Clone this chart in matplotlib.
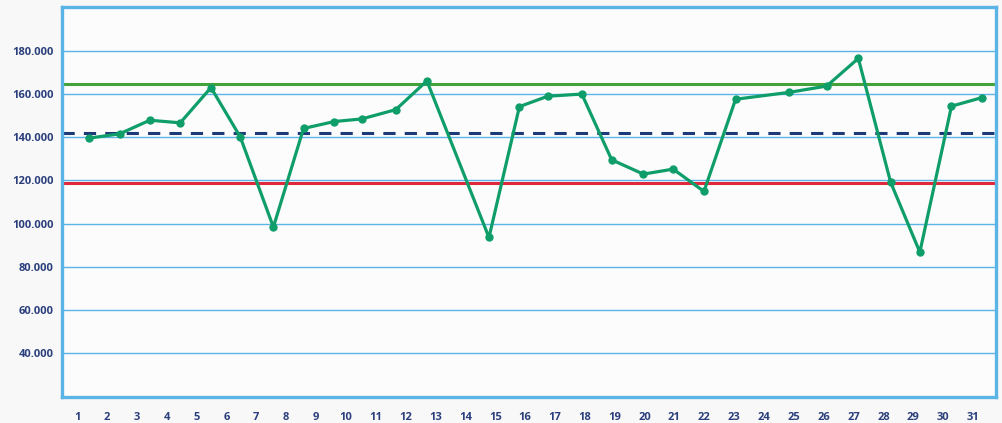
import matplotlib
matplotlib.use('Agg')
import matplotlib.pyplot as plt
from matplotlib.ticker import FuncFormatter

# Dados
dias = list(range(1, 32))
x_pontos = [1.38, 2.42, 3.43, 4.45, 5.48, 6.46, 7.57, 8.58, 9.61, 10.53,
            11.67, 12.71, 14.79, 15.81, 16.76, 17.90, 18.90, 19.96, 20.96, 21.99,
            23.05, 24.85, 26.10, 27.16, 28.24, 29.22, 30.28, 31.31]
valores = [139500, 141500, 147800, 146600, 162900, 140100, 98400, 144000, 147200, 148400,
           152700, 166000, 93600, 154100, 158900, 159900, 129500, 122900, 125200, 114900,
           157500, 160700, 163600, 176400, 119200, 86800, 154300, 158300]
limite_superior = 164400
media = 141700
limite_inferior = 118700
y_ticks = [40000, 60000, 80000, 100000, 120000, 140000, 160000, 180000]

azul_grade = '#5ab4e5'
azul_texto = '#2b3f7c'
bg = '#f8f8f8'

plt.rcParams['font.family'] = ['Open Sans', 'DejaVu Sans']

fig = plt.figure(figsize=(10.03, 4.23), dpi=100, facecolor=bg)
ax = fig.add_axes([0.0621, 0.0622, 0.9309, 0.9205])
ax.set_facecolor('#fcfcfc')

for v in y_ticks:
    ax.axhline(v, color=azul_grade, linewidth=1.0, zorder=1)

ax.axhline(limite_superior, color='#43a33a', linewidth=2.2, zorder=2)
ax.axhline(limite_inferior, color='#e0283c', linewidth=2.2, zorder=2)
ax.axhline(media, color='#1d3a78', linewidth=2.2, linestyle=(0, (4, 3)), zorder=2)

ax.plot(x_pontos, valores, color='#0f9e6a', linewidth=2.3, marker='o',
        markersize=5, zorder=3)

ax.set_xlim(0.5, 31.77)
ax.set_ylim(20000, 200000)
ax.set_yticks(y_ticks)
ax.yaxis.set_major_formatter(FuncFormatter(lambda v, p: f'{int(v):,}'.replace(',', '.')))
ax.set_xticks(dias)
ax.set_xticklabels([str(d) for d in dias])
ax.tick_params(axis='both', length=0, colors=azul_texto, labelsize=8)
ax.tick_params(axis='x', pad=11)
ax.tick_params(axis='y', pad=6)
for lbl in ax.get_xticklabels() + ax.get_yticklabels():
    lbl.set_fontweight('bold')

for s in ax.spines.values():
    s.set_color(azul_grade)
    s.set_linewidth(2.4)

fig.savefig('out.png', dpi=100, facecolor=bg)
